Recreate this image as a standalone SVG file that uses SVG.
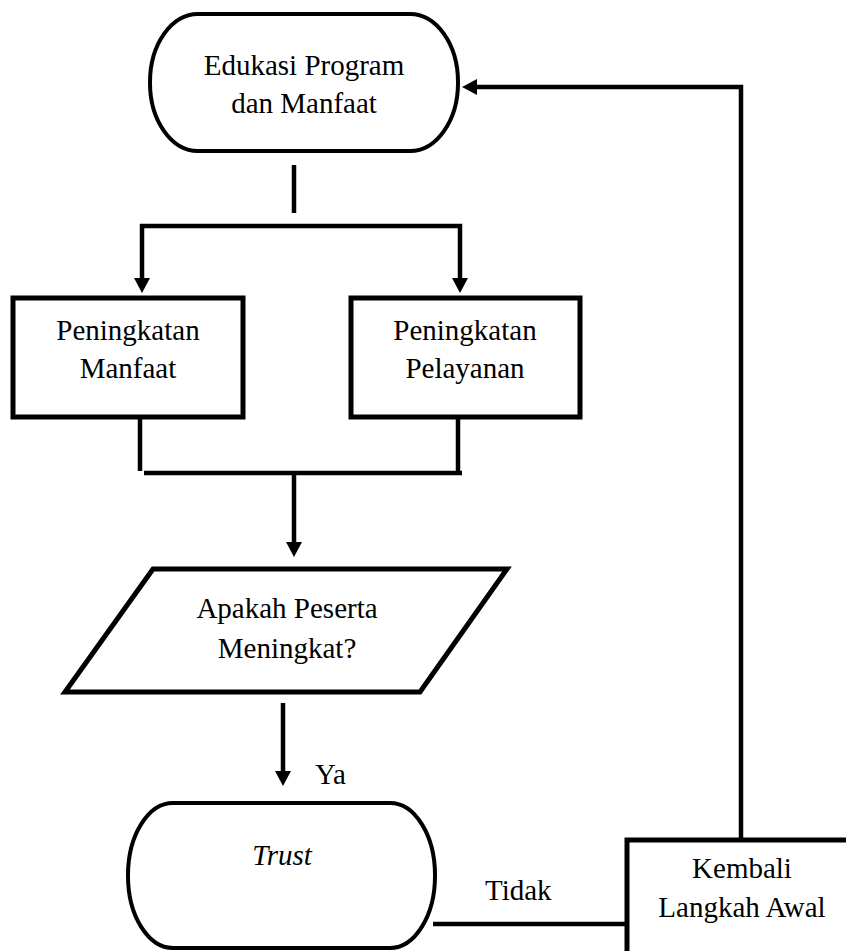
<svg xmlns="http://www.w3.org/2000/svg" width="846" height="951" viewBox="0 0 846 951">
  <style>
    .shape { fill: #fff; stroke: #000; }
    .term { stroke-width: 4; }
    .box { stroke-width: 5; }
    .conn { fill: none; stroke: #000; stroke-width: 4.5; }
    text { font-family: "Liberation Serif", "Times New Roman", serif; font-size: 29px; fill: #000; }
    .c { text-anchor: middle; }
  </style>
  <defs>
    <marker id="arrow" viewBox="0 0 15 16" refX="5" refY="8" markerWidth="15" markerHeight="16" markerUnits="userSpaceOnUse" orient="auto">
      <path d="M0,0 L15,8 L0,16 z" fill="#000"/>
    </marker>
  </defs>

  <rect x="0" y="0" width="846" height="951" fill="#fff"/>

  <g id="edukasi">
    <rect class="shape term" x="150" y="14" width="308" height="137" rx="48" ry="68"/>
    <text class="c" x="304" y="75">Edukasi Program</text>
    <text class="c" x="304" y="113">dan Manfaat</text>
  </g>

  <g id="manfaat">
    <rect class="shape box" x="13" y="298" width="230" height="119"/>
    <text class="c" x="128" y="340">Peningkatan</text>
    <text class="c" x="128" y="378">Manfaat</text>
  </g>

  <g id="pelayanan">
    <rect class="shape box" x="351" y="298" width="229" height="119"/>
    <text class="c" x="465" y="340">Peningkatan</text>
    <text class="c" x="465" y="378">Pelayanan</text>
  </g>

  <g id="keputusan">
    <polygon class="shape box" points="153,569 507,569 420,692 65,692"/>
    <text class="c" x="287" y="618">Apakah Peserta</text>
    <text class="c" x="287" y="658">Meningkat?</text>
  </g>

  <g id="trust">
    <rect class="shape term" x="128" y="803" width="307" height="145" rx="45" ry="72"/>
    <text class="c" x="282" y="865" font-style="italic">Trust</text>
  </g>

  <g id="kembali">
    <rect class="shape box" x="627" y="840" width="260" height="160"/>
    <text class="c" x="742" y="878">Kembali</text>
    <text class="c" x="742" y="917">Langkah Awal</text>
  </g>

  <g id="connectors">
    <!-- split from the top terminal into both boxes -->
    <line class="conn" x1="294" y1="165" x2="294" y2="213"/>
    <path class="conn" d="M294,226 H142 V283" marker-end="url(#arrow)"/>
    <path class="conn" d="M294,226 H460 V283" marker-end="url(#arrow)"/>
    <!-- merge of both boxes into the decision -->
    <line class="conn" x1="140" y1="417" x2="140" y2="471"/>
    <line class="conn" x1="458" y1="417" x2="458" y2="471"/>
    <line class="conn" x1="144" y1="473" x2="462" y2="473"/>
    <path class="conn" d="M294,473 V547" marker-end="url(#arrow)"/>
    <!-- yes branch -->
    <path class="conn" d="M283,703 V776" marker-end="url(#arrow)"/>
    <text x="315" y="784">Ya</text>
    <!-- no branch and loop back -->
    <line class="conn" x1="433" y1="924" x2="627" y2="924"/>
    <text x="485" y="900">Tidak</text>
    <path class="conn" d="M741,840 V87 H472" marker-end="url(#arrow)"/>
  </g>
</svg>
